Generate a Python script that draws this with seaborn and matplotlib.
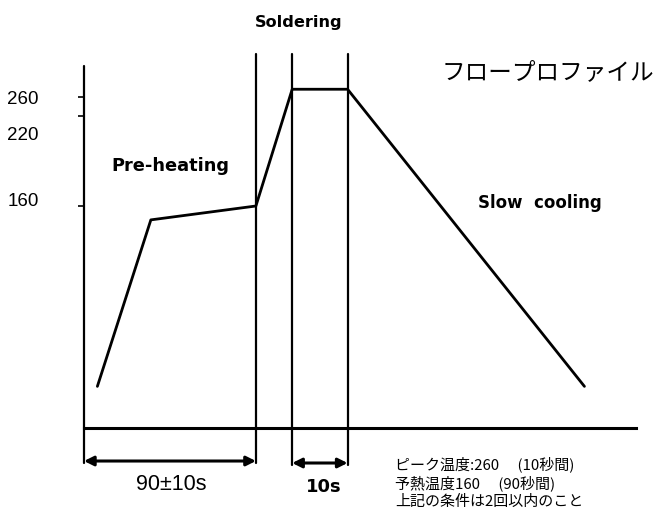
import matplotlib
matplotlib.use("Agg")
import matplotlib.pyplot as plt
import seaborn as sns
import pandas as pd
import numpy as np

# ── Data (schematic flow-soldering profile) ──────────────────
profile_time = [7, 35, 90, 109, 138, 262]       # s
profile_temp = [30, 150, 160, 265, 265, 30]     # deg C
zone_edges = [0, 90, 109, 138]                  # preheat start/end, soldering start/end
temp_ticks = [260, 220, 160]
tick_labels = ["260", "220", "160"]
preheat_span = (0, 90)
solder_span = (109, 138)
notes = ["ピーク温度:260　 (10秒間)", "予熱温度160　 (90秒間)", "上記の条件は2回以内のこと"]

# the drawing is not to scale: piecewise temperature axis
T_ANCH = [-100, 0, 160, 220, 260, 330]
P_ANCH = [-138.75, 0, 222, 312, 331, 439.5]


def fwd(t):
    return np.interp(t, T_ANCH, P_ANCH)


def inv(p):
    return np.interp(p, P_ANCH, T_ANCH)


sns.set_theme(style="white")
plt.rcParams["font.family"] = ["Liberation Sans", "Noto Sans CJK JP", "DejaVu Sans"]
plt.rcParams["text.color"] = "black"

W, H = 665, 514
fig = plt.figure(figsize=(W / 100, H / 100), dpi=100)
ax = fig.add_axes([84 / W, 86 / H, 552 / W, 362 / H])


def px(x, y):
    return x / W, 1 - y / H


df = pd.DataFrame({"time": profile_time, "temp": profile_temp})
sns.lineplot(data=df, x="time", y="temp", ax=ax, color="black", lw=2, sort=False)

ax.set_yscale("function", functions=(fwd, inv))
ax.set_xlim(0, 289)
ax.set_ylim(0, 280)

for s in ["top", "right", "left"]:
    ax.spines[s].set_visible(False)
ax.spines["bottom"].set_linewidth(2.2)
ax.spines["bottom"].set_color("black")
ax.set_xticks([])
ax.set_yticks(temp_ticks)
ax.set_yticklabels([])
ax.tick_params(axis="y", direction="out", length=4, width=1.2, color="black", left=True)
ax.set_xlabel("")
ax.set_ylabel("")

# zone boundary lines
bottoms = [-0.0967, -0.0967, -0.1022, -0.1022]
tops = [1.0, 1.033, 1.033, 1.033]
for x, b, t in zip(zone_edges, bottoms, tops):
    ax.axvline(x, ymin=b, ymax=t, color="black", lw=1.6, clip_on=False)

# span arrows
tr = ax.get_xaxis_transform()
for span, yf in [(preheat_span, -0.0912), (solder_span, -0.0967)]:
    ax.annotate("", xy=(span[1], yf), xytext=(span[0], yf), xycoords=tr, textcoords=tr,
                arrowprops=dict(arrowstyle="<|-|>", color="black", lw=2.2,
                                mutation_scale=14, shrinkA=0, shrinkB=0),
                annotation_clip=False)

# labels
bold = dict(ha="center", va="center", fontweight="bold", family=["DejaVu Sans"])
fig.text(*px(299, 22), "Soldering", fontsize=11.6, **bold)
fig.text(*px(170, 166), "Pre-heating", fontsize=12.8, **bold)
fig.text(*px(540, 203), "Slow  cooling", fontsize=12, **bold)
fig.text(*px(548, 73), "フロープロファイル", ha="center", va="center", fontsize=17,
         family=["Noto Sans CJK JP", "DejaVu Sans"])

for lab, y in zip(tick_labels, [100, 135, 202]):
    fig.text(*px(23, y), lab, ha="center", va="center", fontsize=13.5)

fig.text(*px(171, 485), "90±10s", ha="center", va="center", fontsize=15.5)
fig.text(*px(324, 487), "10s", fontsize=13, **bold)

for line, y in zip(notes, [464, 483, 502]):
    fig.text(*px(395, y), line, ha="left", va="center", fontsize=10.8,
             family=["Noto Sans CJK JP", "DejaVu Sans"])

fig.savefig("out.png", dpi=100)
